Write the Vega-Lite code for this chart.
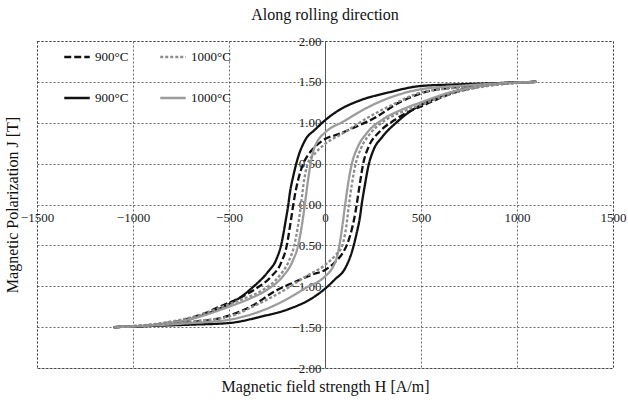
{
  "$schema": "https://vega.github.io/schema/vega-lite/v6.json",
  "width": 576,
  "height": 327,
  "autosize": {"type": "none"},
  "padding": {"left": 37, "top": 41, "right": 15, "bottom": 39},
  "background": "white",
  "title": {"text": "Along rolling direction", "font": "Liberation Serif", "fontSize": 16, "fontWeight": "normal", "color": "#111", "offset": 12, "anchor": "middle"},
  "config": {
    "view": {"stroke": "#444", "strokeDash": [2, 2], "strokeWidth": 1},
    "axis": {"labelFont": "Liberation Serif", "titleFont": "Liberation Serif", "labelColor": "#222", "titleColor": "#111", "labelFontSize": 13, "titleFontSize": 16, "titleFontWeight": "normal", "grid": true, "gridColor": "#444", "gridDash": [2, 2], "gridWidth": 0.8, "ticks": false}
  },
  "data": {"values": [
    {"s":"900°C s","b":"d","H":1100,"J":1.50},{"s":"900°C s","b":"d","H":900,"J":1.485},{"s":"900°C s","b":"d","H":700,"J":1.47},{"s":"900°C s","b":"d","H":500,"J":1.45},{"s":"900°C s","b":"d","H":330,"J":1.37},{"s":"900°C s","b":"d","H":190,"J":1.28},{"s":"900°C s","b":"d","H":70,"J":1.15},{"s":"900°C s","b":"d","H":0,"J":1.03},{"s":"900°C s","b":"d","H":-50,"J":0.92},{"s":"900°C s","b":"d","H":-105,"J":0.78},{"s":"900°C s","b":"d","H":-140,"J":0.58},{"s":"900°C s","b":"d","H":-165,"J":0.35},{"s":"900°C s","b":"d","H":-183,"J":0.14},{"s":"900°C s","b":"d","H":-191,"J":0.0},{"s":"900°C s","b":"d","H":-205,"J":-0.2},{"s":"900°C s","b":"d","H":-226,"J":-0.47},{"s":"900°C s","b":"d","H":-255,"J":-0.68},{"s":"900°C s","b":"d","H":-296,"J":-0.82},{"s":"900°C s","b":"d","H":-380,"J":-1.02},{"s":"900°C s","b":"d","H":-450,"J":-1.15},{"s":"900°C s","b":"d","H":-520,"J":-1.24},{"s":"900°C s","b":"d","H":-620,"J":-1.34},{"s":"900°C s","b":"d","H":-750,"J":-1.43},{"s":"900°C s","b":"d","H":-900,"J":-1.48},{"s":"900°C s","b":"d","H":-1100,"J":-1.50},
    {"s":"900°C s","b":"a","H":-1100,"J":-1.50},{"s":"900°C s","b":"a","H":-900,"J":-1.485},{"s":"900°C s","b":"a","H":-700,"J":-1.47},{"s":"900°C s","b":"a","H":-500,"J":-1.45},{"s":"900°C s","b":"a","H":-330,"J":-1.37},{"s":"900°C s","b":"a","H":-190,"J":-1.28},{"s":"900°C s","b":"a","H":-70,"J":-1.15},{"s":"900°C s","b":"a","H":0,"J":-1.03},{"s":"900°C s","b":"a","H":50,"J":-0.92},{"s":"900°C s","b":"a","H":105,"J":-0.78},{"s":"900°C s","b":"a","H":140,"J":-0.58},{"s":"900°C s","b":"a","H":165,"J":-0.35},{"s":"900°C s","b":"a","H":183,"J":-0.14},{"s":"900°C s","b":"a","H":191,"J":0.0},{"s":"900°C s","b":"a","H":205,"J":0.2},{"s":"900°C s","b":"a","H":226,"J":0.47},{"s":"900°C s","b":"a","H":255,"J":0.68},{"s":"900°C s","b":"a","H":296,"J":0.82},{"s":"900°C s","b":"a","H":380,"J":1.02},{"s":"900°C s","b":"a","H":450,"J":1.15},{"s":"900°C s","b":"a","H":520,"J":1.24},{"s":"900°C s","b":"a","H":620,"J":1.34},{"s":"900°C s","b":"a","H":750,"J":1.43},{"s":"900°C s","b":"a","H":900,"J":1.48},{"s":"900°C s","b":"a","H":1100,"J":1.50},

    {"s":"900°C d","b":"d","H":1100,"J":1.50},{"s":"900°C d","b":"d","H":900,"J":1.48},{"s":"900°C d","b":"d","H":700,"J":1.44},{"s":"900°C d","b":"d","H":500,"J":1.36},{"s":"900°C d","b":"d","H":380,"J":1.24},{"s":"900°C d","b":"d","H":260,"J":1.06},{"s":"900°C d","b":"d","H":150,"J":0.94},{"s":"900°C d","b":"d","H":70,"J":0.86},{"s":"900°C d","b":"d","H":0,"J":0.80},{"s":"900°C d","b":"d","H":-50,"J":0.71},{"s":"900°C d","b":"d","H":-90,"J":0.60},{"s":"900°C d","b":"d","H":-113,"J":0.50},{"s":"900°C d","b":"d","H":-140,"J":0.30},{"s":"900°C d","b":"d","H":-158,"J":0.10},{"s":"900°C d","b":"d","H":-165,"J":0.0},{"s":"900°C d","b":"d","H":-178,"J":-0.2},{"s":"900°C d","b":"d","H":-199,"J":-0.5},{"s":"900°C d","b":"d","H":-230,"J":-0.72},{"s":"900°C d","b":"d","H":-280,"J":-0.88},{"s":"900°C d","b":"d","H":-360,"J":-1.03},{"s":"900°C d","b":"d","H":-450,"J":-1.15},{"s":"900°C d","b":"d","H":-520,"J":-1.22},{"s":"900°C d","b":"d","H":-650,"J":-1.35},{"s":"900°C d","b":"d","H":-850,"J":-1.46},{"s":"900°C d","b":"d","H":-1100,"J":-1.50},
    {"s":"900°C d","b":"a","H":-1100,"J":-1.50},{"s":"900°C d","b":"a","H":-900,"J":-1.48},{"s":"900°C d","b":"a","H":-700,"J":-1.44},{"s":"900°C d","b":"a","H":-500,"J":-1.36},{"s":"900°C d","b":"a","H":-380,"J":-1.24},{"s":"900°C d","b":"a","H":-260,"J":-1.06},{"s":"900°C d","b":"a","H":-150,"J":-0.94},{"s":"900°C d","b":"a","H":-70,"J":-0.86},{"s":"900°C d","b":"a","H":0,"J":-0.80},{"s":"900°C d","b":"a","H":50,"J":-0.71},{"s":"900°C d","b":"a","H":90,"J":-0.60},{"s":"900°C d","b":"a","H":113,"J":-0.50},{"s":"900°C d","b":"a","H":140,"J":-0.30},{"s":"900°C d","b":"a","H":158,"J":-0.10},{"s":"900°C d","b":"a","H":165,"J":0.0},{"s":"900°C d","b":"a","H":178,"J":0.2},{"s":"900°C d","b":"a","H":199,"J":0.5},{"s":"900°C d","b":"a","H":230,"J":0.72},{"s":"900°C d","b":"a","H":280,"J":0.88},{"s":"900°C d","b":"a","H":360,"J":1.03},{"s":"900°C d","b":"a","H":450,"J":1.15},{"s":"900°C d","b":"a","H":520,"J":1.22},{"s":"900°C d","b":"a","H":650,"J":1.35},{"s":"900°C d","b":"a","H":850,"J":1.46},{"s":"900°C d","b":"a","H":1100,"J":1.50},

    {"s":"1000°C s","b":"d","H":1100,"J":1.50},{"s":"1000°C s","b":"d","H":900,"J":1.48},{"s":"1000°C s","b":"d","H":700,"J":1.45},{"s":"1000°C s","b":"d","H":500,"J":1.41},{"s":"1000°C s","b":"d","H":330,"J":1.30},{"s":"1000°C s","b":"d","H":200,"J":1.16},{"s":"1000°C s","b":"d","H":100,"J":1.02},{"s":"1000°C s","b":"d","H":0,"J":0.88},{"s":"1000°C s","b":"d","H":-40,"J":0.77},{"s":"1000°C s","b":"d","H":-60,"J":0.66},{"s":"1000°C s","b":"d","H":-75,"J":0.50},{"s":"1000°C s","b":"d","H":-90,"J":0.27},{"s":"1000°C s","b":"d","H":-105,"J":0.0},{"s":"1000°C s","b":"d","H":-120,"J":-0.25},{"s":"1000°C s","b":"d","H":-140,"J":-0.50},{"s":"1000°C s","b":"d","H":-170,"J":-0.70},{"s":"1000°C s","b":"d","H":-220,"J":-0.88},{"s":"1000°C s","b":"d","H":-300,"J":-1.04},{"s":"1000°C s","b":"d","H":-400,"J":-1.16},{"s":"1000°C s","b":"d","H":-500,"J":-1.25},{"s":"1000°C s","b":"d","H":-650,"J":-1.37},{"s":"1000°C s","b":"d","H":-850,"J":-1.46},{"s":"1000°C s","b":"d","H":-1100,"J":-1.50},
    {"s":"1000°C s","b":"a","H":-1100,"J":-1.50},{"s":"1000°C s","b":"a","H":-900,"J":-1.48},{"s":"1000°C s","b":"a","H":-700,"J":-1.45},{"s":"1000°C s","b":"a","H":-500,"J":-1.41},{"s":"1000°C s","b":"a","H":-330,"J":-1.30},{"s":"1000°C s","b":"a","H":-200,"J":-1.16},{"s":"1000°C s","b":"a","H":-100,"J":-1.02},{"s":"1000°C s","b":"a","H":0,"J":-0.88},{"s":"1000°C s","b":"a","H":40,"J":-0.77},{"s":"1000°C s","b":"a","H":60,"J":-0.66},{"s":"1000°C s","b":"a","H":75,"J":-0.50},{"s":"1000°C s","b":"a","H":90,"J":-0.27},{"s":"1000°C s","b":"a","H":105,"J":0.0},{"s":"1000°C s","b":"a","H":120,"J":0.25},{"s":"1000°C s","b":"a","H":140,"J":0.50},{"s":"1000°C s","b":"a","H":170,"J":0.70},{"s":"1000°C s","b":"a","H":220,"J":0.88},{"s":"1000°C s","b":"a","H":300,"J":1.04},{"s":"1000°C s","b":"a","H":400,"J":1.16},{"s":"1000°C s","b":"a","H":500,"J":1.25},{"s":"1000°C s","b":"a","H":650,"J":1.37},{"s":"1000°C s","b":"a","H":850,"J":1.46},{"s":"1000°C s","b":"a","H":1100,"J":1.50},

    {"s":"1000°C d","b":"d","H":1100,"J":1.50},{"s":"1000°C d","b":"d","H":900,"J":1.47},{"s":"1000°C d","b":"d","H":700,"J":1.43},{"s":"1000°C d","b":"d","H":500,"J":1.37},{"s":"1000°C d","b":"d","H":350,"J":1.22},{"s":"1000°C d","b":"d","H":200,"J":1.03},{"s":"1000°C d","b":"d","H":100,"J":0.88},{"s":"1000°C d","b":"d","H":0,"J":0.74},{"s":"1000°C d","b":"d","H":-50,"J":0.63},{"s":"1000°C d","b":"d","H":-90,"J":0.50},{"s":"1000°C d","b":"d","H":-110,"J":0.28},{"s":"1000°C d","b":"d","H":-125,"J":0.0},{"s":"1000°C d","b":"d","H":-140,"J":-0.25},{"s":"1000°C d","b":"d","H":-160,"J":-0.50},{"s":"1000°C d","b":"d","H":-190,"J":-0.70},{"s":"1000°C d","b":"d","H":-240,"J":-0.88},{"s":"1000°C d","b":"d","H":-320,"J":-1.04},{"s":"1000°C d","b":"d","H":-420,"J":-1.15},{"s":"1000°C d","b":"d","H":-500,"J":-1.22},{"s":"1000°C d","b":"d","H":-650,"J":-1.35},{"s":"1000°C d","b":"d","H":-850,"J":-1.45},{"s":"1000°C d","b":"d","H":-1100,"J":-1.50},
    {"s":"1000°C d","b":"a","H":-1100,"J":-1.50},{"s":"1000°C d","b":"a","H":-900,"J":-1.47},{"s":"1000°C d","b":"a","H":-700,"J":-1.43},{"s":"1000°C d","b":"a","H":-500,"J":-1.37},{"s":"1000°C d","b":"a","H":-350,"J":-1.22},{"s":"1000°C d","b":"a","H":-200,"J":-1.03},{"s":"1000°C d","b":"a","H":-100,"J":-0.88},{"s":"1000°C d","b":"a","H":0,"J":-0.74},{"s":"1000°C d","b":"a","H":50,"J":-0.63},{"s":"1000°C d","b":"a","H":90,"J":-0.50},{"s":"1000°C d","b":"a","H":110,"J":-0.28},{"s":"1000°C d","b":"a","H":125,"J":0.0},{"s":"1000°C d","b":"a","H":140,"J":0.25},{"s":"1000°C d","b":"a","H":160,"J":0.50},{"s":"1000°C d","b":"a","H":190,"J":0.70},{"s":"1000°C d","b":"a","H":240,"J":0.88},{"s":"1000°C d","b":"a","H":320,"J":1.04},{"s":"1000°C d","b":"a","H":420,"J":1.15},{"s":"1000°C d","b":"a","H":500,"J":1.22},{"s":"1000°C d","b":"a","H":650,"J":1.35},{"s":"1000°C d","b":"a","H":850,"J":1.45},{"s":"1000°C d","b":"a","H":1100,"J":1.50}
  ]},
  "mark": {"type": "line", "strokeWidth": 2.3, "interpolate": "monotone"},
  "encoding": {
    "x": {"field": "H", "type": "quantitative", "sort": null,
      "scale": {"domain": [-1500, 1500], "nice": false, "zero": false},
      "axis": {"values": [-1500, -1000, -500, 0, 500, 1000, 1500], "format": "d", "orient": "bottom", "offset": -163.5, "domain": false, "labelPadding": 7, "labelFlush": false, "labelOverlap": false, "title": "Magnetic field strength H [A/m]", "titleX": 288, "titleY": 174, "titleAnchor": "middle", "titleAlign": "center", "titleBaseline": "top"}},
    "y": {"field": "J", "type": "quantitative",
      "scale": {"domain": [-2, 2], "nice": false, "zero": false},
      "axis": {"values": [-2, -1.5, -1, -0.5, 0, 0.5, 1, 1.5, 2], "format": ".2f", "orient": "left", "offset": -288, "domain": true, "domainColor": "#555", "domainWidth": 1, "labelPadding": 4, "labelFlush": false, "labelOverlap": false, "title": "Magnetic Polarization J [T]", "titleX": -313, "titleY": 163.5, "titleAngle": -90, "titleAlign": "center", "titleBaseline": "middle"}},
    "detail": {"field": "b"},
    "color": {"field": "s", "type": "nominal",
      "scale": {"domain": ["900°C d", "900°C s", "1000°C d", "1000°C s"], "range": ["#111111", "#111111", "#8c8c8c", "#9c9c9c"]},
      "legend": {"orient": "none", "legendX": 26, "legendY": 2, "columns": 2, "columnPadding": 26, "rowPadding": 20, "title": null, "symbolType": "stroke", "symbolSize": 650, "symbolStrokeWidth": 2.5, "labelFont": "Liberation Serif", "labelFontSize": 13, "labelColor": "#111", "labelExpr": "split(datum.label, ' ')[0]"}},
    "strokeDash": {"field": "s", "type": "nominal",
      "scale": {"domain": ["900°C d", "900°C s", "1000°C d", "1000°C s"], "range": [[7, 3], [1, 0], [3, 2], [1, 0]]},
      "legend": {"orient": "none", "legendX": 26, "legendY": 2, "columns": 2, "columnPadding": 26, "rowPadding": 20, "title": null, "symbolType": "stroke", "symbolSize": 650, "symbolStrokeWidth": 2.5, "labelFont": "Liberation Serif", "labelFontSize": 13, "labelColor": "#111", "labelExpr": "split(datum.label, ' ')[0]"}}
  }
}
